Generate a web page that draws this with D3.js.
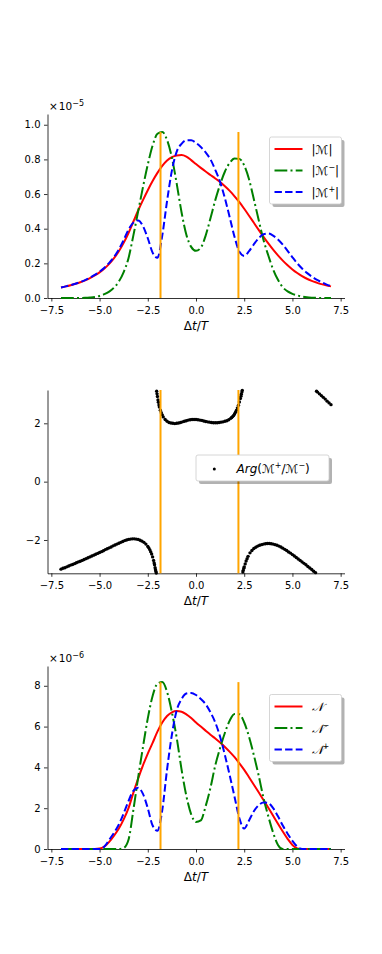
<!DOCTYPE html>
<html>
<head>
<meta charset="utf-8">
<script src="https://cdn.jsdelivr.net/npm/d3@7"></script>
<style>
body { margin: 0; background: #fff; }
text { font-family: "DejaVu Sans", sans-serif; }
</style>
</head>
<body>
<div id="fig"></div>
<script>
// shared time grid (Δt/T)
const xs = [-7, -6.75, -6.5, -6.25, -6, -5.75, -5.5, -5.25, -5, -4.75, -4.5, -4.25, -4, -3.75, -3.5, -3.25,
    -3, -2.75, -2.5, -2.25, -2, -1.75, -1.5, -1.25, -1, -0.75, -0.5, -0.25, 0, 0.25, 0.5, 0.75,
    1, 1.25, 1.5, 1.75, 2, 2.25, 2.5, 2.75, 3, 3.25, 3.5, 3.75, 4, 4.25, 4.5, 4.75,
    5, 5.25, 5.5, 5.75, 6, 6.25, 6.5, 6.75, 7]

// |M|, |M-|, |M+|  (x 1e-5)
const magM = [0.061, 0.067, 0.074, 0.082, 0.091, 0.102, 0.115, 0.130, 0.148, 0.170, 0.197, 0.230, 0.270, 0.318, 0.375, 0.440,
    0.505, 0.565, 0.622, 0.675, 0.722, 0.762, 0.793, 0.813, 0.823, 0.825, 0.816, 0.796, 0.773, 0.751, 0.730, 0.710,
    0.690, 0.669, 0.645, 0.618, 0.587, 0.553, 0.515, 0.475, 0.434, 0.393, 0.353, 0.315, 0.279, 0.246, 0.216, 0.189,
    0.165, 0.144, 0.126, 0.111, 0.099, 0.089, 0.080, 0.073, 0.067]
const magMminus = [0, 0, 0, 0, 0, 0.001, 0.003, 0.006, 0.012, 0.022, 0.037, 0.060, 0.095, 0.150, 0.230, 0.360,
    0.500, 0.640, 0.770, 0.880, 0.948, 0.958, 0.912, 0.810, 0.660, 0.495, 0.365, 0.295, 0.272, 0.290, 0.360, 0.460,
    0.565, 0.655, 0.730, 0.780, 0.805, 0.803, 0.765, 0.685, 0.570, 0.450, 0.335, 0.245, 0.165, 0.105, 0.062, 0.038,
    0.024, 0.015, 0.008, 0.004, 0.002, 0.001, 0, 0, 0]
const magMplus = [0.061, 0.067, 0.074, 0.082, 0.092, 0.103, 0.117, 0.133, 0.152, 0.175, 0.203, 0.237, 0.280, 0.335, 0.395, 0.435,
    0.448, 0.415, 0.345, 0.262, 0.232, 0.360, 0.560, 0.735, 0.845, 0.890, 0.910, 0.910, 0.895, 0.872, 0.840, 0.800,
    0.740, 0.670, 0.575, 0.465, 0.352, 0.267, 0.243, 0.270, 0.310, 0.345, 0.368, 0.372, 0.360, 0.338, 0.308, 0.272,
    0.235, 0.200, 0.170, 0.145, 0.124, 0.106, 0.092, 0.079, 0.068]

// N, N-, N+  (x 1e-6)
const nTot = [0, 0, 0, 0, 0, 0, 0, 0, 0.02, 0.12, 0.35, 0.65, 1.0, 1.45, 2.0, 2.75,
    3.45, 4.1, 4.68, 5.2, 5.75, 6.2, 6.52, 6.7, 6.76, 6.73, 6.6, 6.42, 6.2, 6.0, 5.8, 5.6,
    5.42, 5.22, 5.0, 4.76, 4.5, 4.2, 3.88, 3.52, 3.15, 2.78, 2.4, 2.02, 1.63, 1.24, 0.86, 0.5,
    0.2, 0.03, 0, 0, 0, 0, 0, 0, 0]
const nMinus = [0, 0, 0, 0, 0, 0, 0, 0, 0, 0, 0, 0, 0, 0.05, 0.45, 1.9,
    3.5, 5.0, 6.4, 7.5, 8.1, 8.18, 7.7, 6.7, 5.45, 3.9, 2.6, 1.7, 1.32, 1.4, 2.1, 3.0,
    4.1, 4.95, 5.7, 6.3, 6.62, 6.6, 6.2, 5.5, 4.6, 3.6, 2.5, 1.6, 0.8, 0.2, 0, 0,
    0, 0, 0, 0, 0, 0, 0, 0, 0]
const nPlus = [0, 0, 0, 0, 0, 0, 0, 0, 0, 0.12, 0.45, 0.8, 1.2, 1.75, 2.35, 2.85,
    3.0, 2.7, 2.0, 1.15, 0.9, 1.9, 3.9, 5.6, 6.8, 7.35, 7.62, 7.65, 7.55, 7.35, 7.1, 6.7,
    6.2, 5.5, 4.6, 3.6, 2.55, 1.5, 1.0, 1.4, 1.85, 2.15, 2.28, 2.25, 2.0, 1.6, 1.15, 0.75,
    0.4, 0.12, 0, 0, 0, 0, 0, 0, 0]

// Arg(M+/M-) scatter
const phaseX = [-7.0, -6.9, -6.8, -6.7, -6.6, -6.5, -6.4, -6.3, -6.2, -6.1, -6.0, -5.9, -5.8, -5.7, -5.6, -5.5,
    -5.4, -5.3, -5.2, -5.1, -5.0, -4.9, -4.8, -4.7, -4.6, -4.5, -4.4, -4.3, -4.2, -4.1, -4.0, -3.9,
    -3.8, -3.7, -3.6, -3.5, -3.4, -3.3, -3.2, -3.1, -3.0, -2.9, -2.8, -2.7, -2.6, -2.5, -2.45, -2.4,
    -2.35, -2.3, -2.25, -2.2, -2.17, -2.15, -2.12, -2.1, -2.08, -2.06,
    -2.04, -2.02, -2.0, -1.97, -1.95, -1.92, -1.9, -1.85, -1.8, -1.75, -1.7, -1.6, -1.5, -1.4, -1.3, -1.2,
    -1.1, -1.0, -0.9, -0.8, -0.7, -0.6, -0.5, -0.4, -0.3, -0.2, -0.1, 0.0, 0.1, 0.2, 0.3, 0.4,
    0.5, 0.6, 0.7, 0.8, 0.9, 1.0, 1.1, 1.2, 1.3, 1.4, 1.5, 1.6, 1.7, 1.8, 1.85, 1.9,
    1.95, 2.0, 2.05, 2.1, 2.15, 2.2, 2.25, 2.3, 2.33, 2.35, 2.38, 2.4,
    2.43, 2.45, 2.48, 2.5, 2.55, 2.6, 2.65, 2.7, 2.8, 2.9, 3.0, 3.1, 3.2, 3.3, 3.4, 3.5,
    3.6, 3.7, 3.8, 3.9, 4.0, 4.1, 4.2, 4.3, 4.4, 4.5, 4.6, 4.7, 4.8, 4.9, 5.0, 5.1,
    5.2, 5.3, 5.4, 5.5, 5.6, 5.7, 5.8, 5.9, 6.0, 6.1, 6.2,
    6.25, 6.3, 6.4, 6.5, 6.6, 6.7, 6.8, 6.9, 7.0]
const phaseY = [-3.00, -2.97, -2.95, -2.92, -2.89, -2.86, -2.84, -2.81, -2.78, -2.75, -2.73, -2.70, -2.67, -2.64, -2.61, -2.58,
    -2.55, -2.52, -2.49, -2.46, -2.43, -2.40, -2.37, -2.33, -2.30, -2.27, -2.24, -2.20, -2.17, -2.14, -2.11, -2.08,
    -2.05, -2.02, -2.00, -1.98, -1.97, -1.96, -1.96, -1.97, -1.98, -2.01, -2.04, -2.08, -2.14, -2.22, -2.27, -2.33,
    -2.40, -2.48, -2.58, -2.70, -2.79, -2.85, -2.95, -3.02, -3.08, -3.13,
    3.10, 3.01, 2.92, 2.80, 2.72, 2.63, 2.56, 2.45, 2.36, 2.29, 2.22, 2.13, 2.07, 2.03, 2.01, 2.00,
    1.99, 2.00, 2.01, 2.03, 2.05, 2.07, 2.09, 2.11, 2.12, 2.13, 2.13, 2.13, 2.12, 2.11, 2.10, 2.08,
    2.06, 2.05, 2.04, 2.03, 2.02, 2.02, 2.02, 2.03, 2.04, 2.05, 2.07, 2.09, 2.12, 2.17, 2.20, 2.23,
    2.27, 2.32, 2.38, 2.45, 2.53, 2.62, 2.73, 2.85, 2.93, 3.00, 3.07, 3.13,
    -3.10, -3.04, -2.97, -2.92, -2.82, -2.72, -2.64, -2.56, -2.44, -2.36, -2.29, -2.25, -2.21, -2.18, -2.16, -2.14,
    -2.13, -2.12, -2.12, -2.13, -2.14, -2.16, -2.18, -2.21, -2.24, -2.28, -2.32, -2.36, -2.41, -2.45, -2.50, -2.55,
    -2.60, -2.65, -2.70, -2.75, -2.80, -2.85, -2.91, -2.96, -3.01, -3.07, -3.12,
    3.10, 3.07, 3.01, 2.95, 2.89, 2.83, 2.76, 2.70, 2.64]

const vlineX = [-1.84, 2.2]
const xTicks = [-7.5, -5, -2.5, 0, 2.5, 5, 7.5]
const topTicks = [0, 0.2, 0.4, 0.6, 0.8, 1.0]
const midTicks = [-2, 0, 2]
const botTicks = [0, 2, 4, 6, 8]

let width = 382
let height = 954

let svg = d3.select("#fig").append("svg")
    .attr("width", width)
    .attr("height", height)
    .style("background", "#fff")

let x = d3.scaleLinear([-7.7, 7.7], [47.5, 344.5])

function drawAxes(y, yTicks, yFmt) {
    let g = svg.append("g")
    let bottom = y.range()[0]
    let gx = g.append("g").attr("transform", `translate(0,${bottom})`)
        .call(d3.axisBottom(x).tickValues(xTicks).tickFormat(d3.format(".1f"))
            .tickSize(3.5).tickSizeOuter(0).tickPadding(5))
    let gy = g.append("g").attr("transform", `translate(${x.range()[0]},0)`)
        .call(d3.axisLeft(y).tickValues(yTicks).tickFormat(yFmt)
            .tickSize(3.5).tickSizeOuter(0).tickPadding(3.5))
    for (let a of [gx, gy]) {
        a.attr("font-family", "DejaVu Sans").attr("font-size", 10)
        a.selectAll("path, line").attr("stroke", "#000").attr("stroke-width", 0.8)
        a.selectAll("text").attr("fill", "#000")
    }
    // x label
    let lab = g.append("text")
        .attr("x", 196).attr("y", bottom + 32)
        .attr("text-anchor", "middle").attr("font-size", 12)
    lab.append("tspan").text("Δ")
    lab.append("tspan").attr("font-style", "italic").text("t")
    lab.append("tspan").text("/")
    lab.append("tspan").attr("font-style", "italic").text("T")
    return g
}

function offsetText(y, exp) {
    let t = svg.append("text")
        .attr("x", x.range()[0] + 1.5)
        .attr("y", y.range()[1] - 4)
        .attr("font-size", 10.5)
    t.append("tspan").text("×")
    t.append("tspan").attr("dx", 1).text("10")
    t.append("tspan").attr("font-size", 8).attr("dy", -4.5).text(exp)
}

function drawLines(y, series, vTop) {
    let g = svg.append("g")
    series.forEach(s => {
        let line = d3.line()
            .x((d, i) => x(xs[i]))
            .y(d => y(d))
            .curve(d3.curveMonotoneX)
        g.append("path")
            .attr("d", line(s.values))
            .attr("fill", "none")
            .attr("stroke", s.color)
            .attr("stroke-width", 2)
            .attr("stroke-dasharray", s.dash)
    })
    vlineX.forEach(v => {
        g.append("line")
            .attr("x1", x(v)).attr("x2", x(v))
            .attr("y1", y(y.domain()[0])).attr("y2", y(vTop))
            .attr("stroke", "orange").attr("stroke-width", 2)
    })
}

function legendBox(bx, by, bw, bh) {
    let g = svg.append("g")
    g.append("rect").attr("x", bx + 3).attr("y", by + 3).attr("width", bw).attr("height", bh)
        .attr("rx", 2).attr("fill", "#000").attr("fill-opacity", 0.3)
    g.append("rect").attr("x", bx).attr("y", by).attr("width", bw).attr("height", bh)
        .attr("rx", 2).attr("fill", "#fff").attr("stroke", "#ccc").attr("stroke-width", 0.8)
    return g
}

function mathLabel(g, lx, ly, sym, sup, bars) {
    let t = g.append("text").attr("x", lx).attr("y", ly).attr("font-size", 12)
    if (bars) t.append("tspan").text("|")
    t.append("tspan").attr("font-family", "DejaVu Serif, DejaVu Sans").attr("font-style", "italic").text(sym)
    if (sup) {
        t.append("tspan").attr("font-size", 8).attr("dy", -5).text(sup)
        if (bars) t.append("tspan").attr("dy", 5).text("|")
    } else if (bars) {
        t.append("tspan").text("|")
    }
}

function lineLegend(bx, by, series, sym, bars) {
    let g = legendBox(bx, by, 72, 67)
    series.forEach((s, i) => {
        let cy = by + 12 + i * 21.5
        g.append("line").attr("x1", bx + 5).attr("x2", bx + 33)
            .attr("y1", cy).attr("y2", cy)
            .attr("stroke", s.color).attr("stroke-width", 2)
            .attr("stroke-dasharray", s.dash)
        mathLabel(g, bx + 42, cy + 4.5, sym, s.sup, bars)
    })
}

// ---------- panel 1 : |M| ----------
let y1 = d3.scaleLinear([0, 1.062], [298, 114])
drawAxes(y1, topTicks, d3.format(".1f"))
offsetText(y1, "−5")
let series1 = [
    {values: magM, color: "red", dash: null, sup: null},
    {values: magMminus, color: "green", dash: "12.8,3.2,2,3.2", sup: "−"},
    {values: magMplus, color: "blue", dash: "7.4,3.2", sup: "+"}
]
drawLines(y1, series1, d3.max(magMminus))
lineLegend(269.5, 137, series1, "ℳ", true)

// ---------- panel 2 : phase ----------
let y2 = d3.scaleLinear([-Math.PI, Math.PI], [573.3, 390])
drawAxes(y2, midTicks, d3.format("d"))
svg.append("g").selectAll("circle")
    .data(phaseX)
    .join("circle")
    .attr("cx", d => x(d))
    .attr("cy", (d, i) => y2(phaseY[i]))
    .attr("r", 1.7)
    .attr("fill", "#000")
vlineX.forEach(v => {
    svg.append("line")
        .attr("x1", x(v)).attr("x2", x(v))
        .attr("y1", y2(-Math.PI)).attr("y2", y2(Math.PI))
        .attr("stroke", "orange").attr("stroke-width", 2)
})
let lg2 = legendBox(196, 455, 133, 26)
lg2.append("circle").attr("cx", 214.3).attr("cy", 469).attr("r", 1.5).attr("fill", "#000")
let t2 = lg2.append("text").attr("x", 236.5).attr("y", 473).attr("font-size", 12)
t2.append("tspan").attr("font-style", "italic").text("Arg")
t2.append("tspan").text("(")
t2.append("tspan").attr("font-family", "DejaVu Serif, DejaVu Sans").attr("font-style", "italic").text("ℳ")
t2.append("tspan").attr("font-size", 8).attr("dy", -5).text("+")
t2.append("tspan").attr("dy", 5).text("/")
t2.append("tspan").attr("font-family", "DejaVu Serif, DejaVu Sans").attr("font-style", "italic").text("ℳ")
t2.append("tspan").attr("font-size", 8).attr("dy", -5).text("−")
t2.append("tspan").attr("dy", 5).text(")")

// ---------- panel 3 : N ----------
let y3 = d3.scaleLinear([0, 8.97], [849, 666])
drawAxes(y3, botTicks, d3.format("d"))
offsetText(y3, "−6")
let series3 = [
    {values: nTot, color: "red", dash: null, sup: null},
    {values: nMinus, color: "green", dash: "12.8,3.2,2,3.2", sup: "−"},
    {values: nPlus, color: "blue", dash: "7.4,3.2", sup: "+"}
]
drawLines(y3, series3, d3.max(nMinus))
lineLegend(269.5, 694.5, series3, "𝒩", false)
</script>
</body>
</html>
